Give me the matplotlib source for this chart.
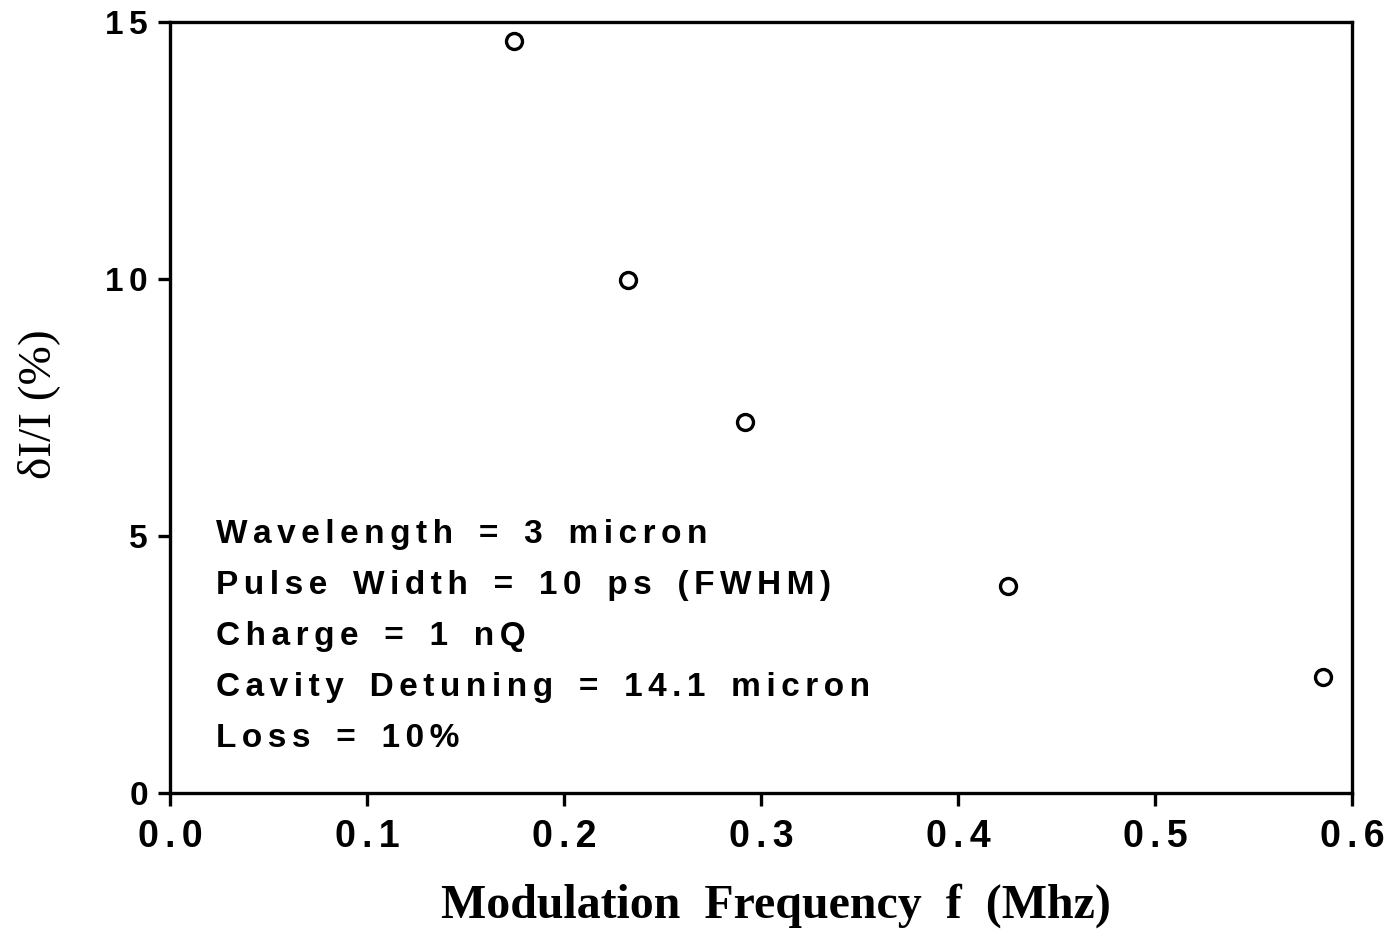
import matplotlib
matplotlib.use("Agg")
import matplotlib.pyplot as plt
from matplotlib.ticker import FixedLocator, FixedFormatter

# Measured fluctuation vs. modulation frequency
freq_mhz = [0.1746, 0.2325, 0.2919, 0.4254, 0.5853]
delta_i_pct = [14.63, 9.98, 7.22, 4.03, 2.26]

x_ticks = [0.0, 0.1, 0.2, 0.3, 0.4, 0.5, 0.6]
x_tick_labels = ["0.0", "0.1", "0.2", "0.3", "0.4", "0.5", "0.6"]
y_ticks = [0, 5, 10, 15]
y_tick_labels = ["0", "5", "10", "15"]

params = [
    "Wavelength = 3 micron",
    "Pulse Width = 10 ps (FWHM)",
    "Charge = 1 nQ",
    "Cavity Detuning = 14.1 micron",
    "Loss = 10%",
]

SANS = ["Liberation Sans", "DejaVu Sans"]
GAP = "\u200a\u200a"


def tracked(s):
    """Open up the letter spacing (and a little extra word spacing)."""
    return GAP.join(s).replace(" ", " " + GAP)


fig = plt.figure(figsize=(13.88, 9.41), dpi=100)
ax = fig.add_axes([0.1225, 0.1573, 0.974 - 0.1225, 0.9766 - 0.1573])

ax.plot(freq_mhz, delta_i_pct, linestyle="none", marker="o",
        markersize=11.5, markerfacecolor="white", markeredgecolor="black",
        markeredgewidth=2.4)

ax.set_xlim(0.0, 0.6)
ax.set_ylim(0, 15)
ax.xaxis.set_major_locator(FixedLocator(x_ticks))
ax.xaxis.set_major_formatter(FixedFormatter([tracked(t) for t in x_tick_labels]))
ax.yaxis.set_major_locator(FixedLocator(y_ticks))
ax.yaxis.set_major_formatter(FixedFormatter([tracked(t) for t in y_tick_labels]))

for s in ax.spines.values():
    s.set_linewidth(2.4)

ax.tick_params(axis="both", direction="out", length=9, width=2.4)
ax.tick_params(axis="x", labelsize=27, pad=10)
ax.tick_params(axis="y", labelsize=24, pad=7)
for lbl in ax.get_xticklabels() + ax.get_yticklabels():
    lbl.set_fontfamily(SANS)
    lbl.set_fontweight("bold")

ax.set_xlabel("Modulation  Frequency  f  (Mhz)", fontfamily="Liberation Serif",
              fontweight="bold", fontsize=34.5)
ax.xaxis.set_label_coords(0.513, -0.117)
ax.set_ylabel("δI/I (%)", fontfamily="Liberation Serif", fontsize=34)
ax.yaxis.set_label_coords(-0.093, 0.505)

y0 = 4.864
for i, line in enumerate(params):
    ax.text(0.0235, y0 - i * 0.99, tracked(line), fontfamily=SANS,
            fontweight="bold", fontsize=24, va="baseline", ha="left")

fig.savefig("out.png", dpi=100)
